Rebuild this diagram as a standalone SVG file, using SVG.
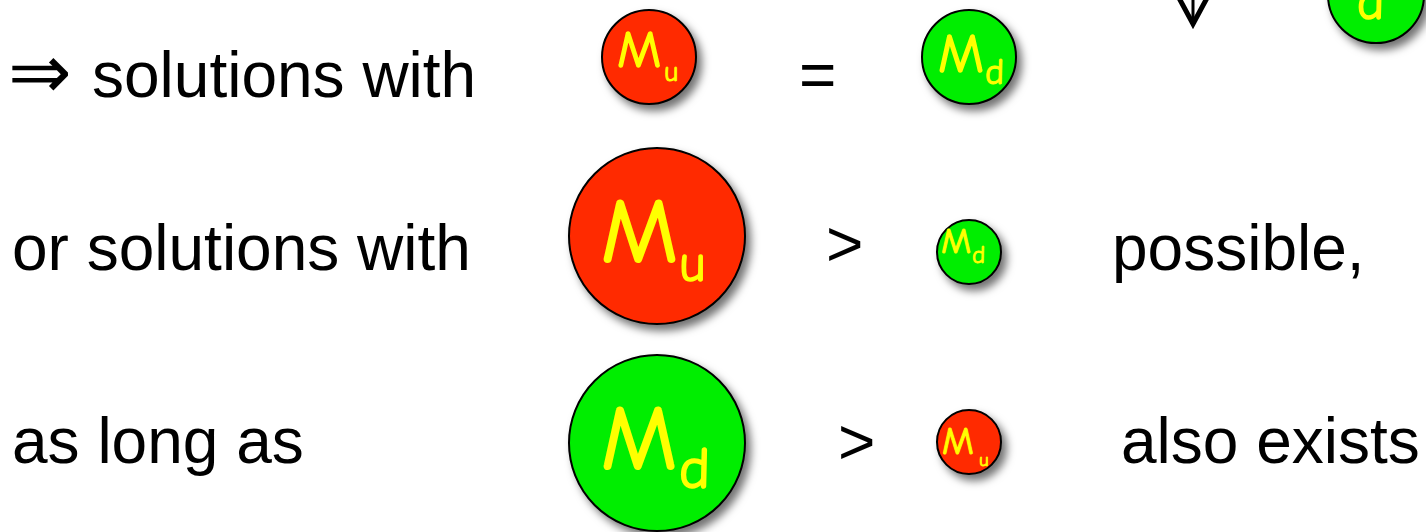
<svg xmlns="http://www.w3.org/2000/svg" width="1426" height="532" viewBox="0 0 1426 532">
<style>
.t{font-family:"Liberation Sans",Arial,sans-serif;font-size:64px;fill:#000}
.sym{font-family:"DejaVu Sans",sans-serif;fill:#000}
.lbl{font-family:"Comic Sans MS","Comic Neue","DejaVu Sans",sans-serif;fill:#ffff00;stroke:#ffff00;stroke-linejoin:round}
.red{fill:#ff2a00;stroke:#000;stroke-width:2;filter:url(#sh)}
.grn{fill:#00ee00;stroke:#000;stroke-width:2;filter:url(#sh)}
</style>
<defs>
<filter id="sh" x="-30%" y="-30%" width="170%" height="170%">
<feDropShadow dx="5" dy="6" stdDeviation="4" flood-color="#000" flood-opacity="0.55"/>
</filter>
</defs>
<rect width="1426" height="532" fill="#fff"/>
<g id="connectors">
<path d="M1179,-2 L1193,24 L1207,-2" fill="none" stroke="#000" stroke-width="5" stroke-linejoin="miter"/>
<line x1="1193" y1="-2" x2="1193" y2="20" stroke="#000" stroke-width="3"/>
</g>
<g id="text-rows">
<text class="sym" x="8" y="98" font-size="76">⇒</text>
<text class="t" x="92" y="97">solutions with</text>
<text class="t" x="12" y="270">or solutions with</text>
<text class="t" x="12" y="463">as long as</text>
<text class="t" x="799" y="97">=</text>
<text class="t" x="826" y="266">&gt;</text>
<text class="t" x="838" y="464">&gt;</text>
<text class="t" x="1112" y="270">possible,</text>
<text class="t" x="1121" y="463">also exists</text>
</g>
<g id="node-top-right">
<circle class="grn" cx="1376" cy="-5" r="48"/>
<text class="lbl" x="1357" y="19" font-size="52" stroke-width="1.4">d</text>
</g>
<g id="node-mu-1">
<circle class="red" cx="649" cy="57" r="47"/>
<text class="lbl" x="617" y="67" font-size="53" stroke-width="1.4">M</text>
<text class="lbl" x="664" y="81" font-size="28" stroke-width="0.9">u</text>
</g>
<g id="node-md-1">
<circle class="grn" cx="969" cy="57" r="47"/>
<text class="lbl" x="938" y="72" font-size="55" stroke-width="1.4">M</text>
<text class="lbl" x="985" y="84" font-size="36" stroke-width="1">d</text>
</g>
<g id="node-mu-2">
<circle class="red" cx="657" cy="236" r="88"/>
<text class="lbl" x="601" y="262" font-size="92" stroke-width="2.2">M</text>
<text class="lbl" x="679" y="281" font-size="52" stroke-width="1.5">u</text>
</g>
<g id="node-md-2">
<circle class="grn" cx="969" cy="252" r="32"/>
<text class="lbl" x="941" y="253" font-size="36" stroke-width="1">M</text>
<text class="lbl" x="972" y="263" font-size="25" stroke-width="0.8">d</text>
</g>
<g id="node-md-3">
<circle class="grn" cx="657" cy="443" r="88"/>
<text class="lbl" x="601" y="469" font-size="91" stroke-width="2.2">M</text>
<text class="lbl" x="679" y="488" font-size="59" stroke-width="1.6">d</text>
</g>
<g id="node-mu-3">
<circle class="red" cx="969" cy="442" r="32"/>
<text class="lbl" x="942" y="454" font-size="38" stroke-width="1">M</text>
<text class="lbl" x="979" y="466" font-size="19" stroke-width="0.8">u</text>
</g>
</svg>
